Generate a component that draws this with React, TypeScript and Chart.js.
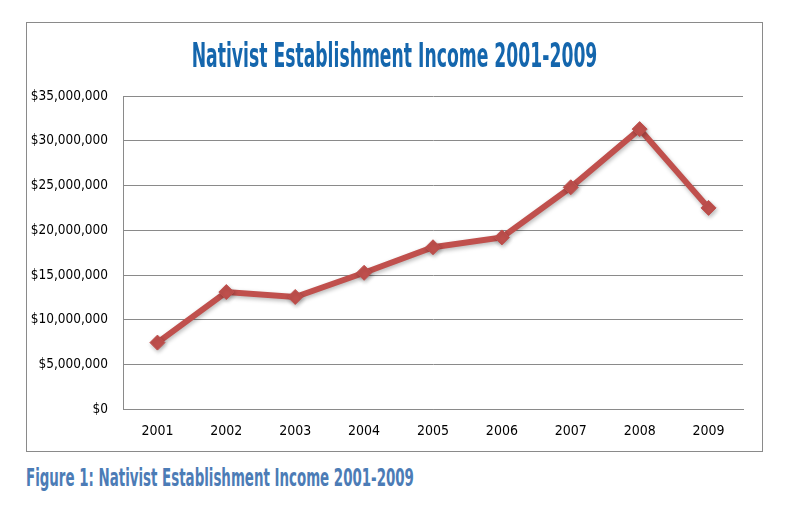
import React, { useEffect, useRef } from "react";
import { Chart, registerables } from "chart.js";

Chart.register(...registerables);

const years = ["2001", "2002", "2003", "2004", "2005", "2006", "2007", "2008", "2009"];
const income = [7450000, 13100000, 12550000, 15250000, 18100000, 19200000, 24800000, 31300000, 22500000];
const yMin = 0;
const yMax = 35000000;
const yStep = 5000000;

const titleText = "Nativist Establishment Income 2001-2009";
const captionText = "Figure 1: Nativist Establishment Income 2001-2009";

const FONT = "'Liberation Sans Narrow', 'DejaVu Sans Condensed', 'Arial Narrow', sans-serif";

const shadowPlugin = {
  id: "lineShadow",
  beforeDatasetsDraw(chart: any) {
    const ctx = chart.ctx;
    ctx.save();
    ctx.shadowColor = "rgba(0,0,0,0.28)";
    ctx.shadowBlur = 4;
    ctx.shadowOffsetX = 1;
    ctx.shadowOffsetY = 2;
  },
  afterDatasetsDraw(chart: any) {
    chart.ctx.restore();
  },
};

export default function App() {
  const canvasRef = useRef<HTMLCanvasElement | null>(null);

  useEffect(() => {
    if (!canvasRef.current) return;
    const chart = new Chart(canvasRef.current, {
      type: "line",
      data: {
        labels: years,
        datasets: [
          {
            data: income,
            borderColor: "#c0504d",
            backgroundColor: "#c0504d",
            borderWidth: 6,
            pointStyle: "rectRot",
            pointRadius: 7.5,
            pointBorderWidth: 1,
            pointBorderColor: "#c0504d",
            pointBackgroundColor: "#c0504d",
            tension: 0,
            fill: false,
          },
        ],
      },
      plugins: [shadowPlugin],
      options: {
        animation: false,
        responsive: false,
        maintainAspectRatio: false,
        layout: { padding: { left: 0, right: 20, top: 74, bottom: 0 } },
        plugins: {
          legend: { display: false },
          title: { display: false },
          tooltip: { enabled: false },
        },
        scales: {
          x: {
            offset: true,
            grid: { display: false, drawTicks: false },
            border: { display: true, color: "#8a8a8a", width: 1 },
            ticks: {
              color: "#000",
              padding: 14,
              font: { family: FONT, size: 14 },
              maxRotation: 0,
            },
            afterFit(scale: any) {
              scale.height = 42.7;
            },
          },
          y: {
            min: yMin,
            max: yMax,
            grid: { color: "#8a8a8a", lineWidth: 1, drawTicks: false },
            border: { display: true, color: "#8a8a8a", width: 1 },
            ticks: {
              stepSize: yStep,
              color: "#000",
              padding: 15,
              font: { family: FONT, size: 13.5 },
              callback: (v: any) => "$" + Number(v).toLocaleString("en-US"),
            },
            afterFit(scale: any) {
              scale.width = 97;
            },
          },
        },
      },
    });
    return () => chart.destroy();
  }, []);

  return (
    <div
      style={{
        position: "fixed",
        left: 0,
        top: 0,
        width: 795,
        height: 513,
        background: "#fff",
        overflow: "hidden",
      }}
    >
      <canvas
        ref={canvasRef}
        width={737}
        height={430}
        style={{ position: "absolute", left: 26, top: 22, width: 737, height: 430 }}
      />
      <div
        style={{
          position: "absolute",
          left: 26,
          top: 22,
          width: 737,
          height: 430,
          boxSizing: "border-box",
          border: "1.5px solid #8a8a8a",
          pointerEvents: "none",
        }}
      />
      <div
        style={{
          position: "absolute",
          left: 26,
          top: 39,
          width: 737,
          textAlign: "center",
          fontFamily: FONT,
          fontWeight: "bold",
          fontSize: 33,
          lineHeight: "33px",
          color: "#1466ad",
          whiteSpace: "nowrap",
          transform: "scaleX(0.58)",
          transformOrigin: "center",
        }}
      >
        {titleText}
      </div>
      <div
        style={{
          position: "absolute",
          left: 26,
          top: 466,
          fontFamily: FONT,
          fontWeight: "bold",
          fontSize: 24,
          lineHeight: "24px",
          color: "#4c7cb6",
          whiteSpace: "nowrap",
          transform: "scaleX(0.62)",
          transformOrigin: "left center",
        }}
      >
        {captionText}
      </div>
    </div>
  );
}
